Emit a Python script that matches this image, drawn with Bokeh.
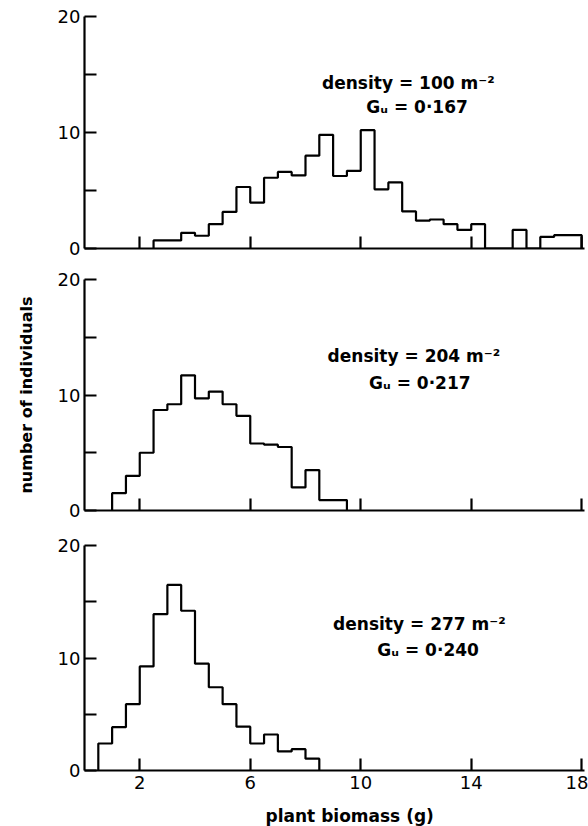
import numpy as np
from bokeh.plotting import figure
from bokeh.layouts import column
from bokeh.models import FixedTicker, Label
from bokeh.embed import file_html
from bokeh.resources import INLINE

# ---- data ----
BIN_WIDTH = 0.5
x_ticks = [2, 6, 10, 14, 18]
y_major = [0, 10, 20]
y_minor = [5, 15]

start_100 = 2.5
counts_100 = [0.7, 0.7, 1.35, 1.1, 2.1, 3.15, 5.3, 3.95, 6.1, 6.6, 6.3, 8.0, 9.8,
              6.25, 6.7, 10.2, 5.1, 5.7, 3.2, 2.4, 2.5, 2.1, 1.6, 2.1, 0, 0, 1.6,
              0, 1.0, 1.15, 1.15]
start_204 = 1.0
counts_204 = [1.5, 3.0, 5.0, 8.7, 9.2, 11.7, 9.7, 10.3, 9.2, 8.2, 5.8, 5.7, 5.5,
              2.0, 3.5, 0.9, 0.9]
start_277 = 0.5
counts_277 = [2.4, 3.85, 5.9, 9.25, 13.9, 16.5, 14.2, 9.5, 7.4, 5.9, 3.9, 2.4, 3.2,
              1.7, 1.9, 1.05]

densities = ["100", "204", "277"]
gu_values = ["0·167", "0·217", "0·240"]
x_title = "plant biomass (g)"
y_title = "number of individuals"

FONT = "DejaVu Sans"
LW = 2.2
X_RANGE = (0, 18.1)

panels = [
    dict(start=start_100, counts=counts_100, dens=densities[0], gu=gu_values[0],
         height=262, top=16, bottom=14, dpos=(8.6, 14.3), gpos=(10.2, 12.2)),
    dict(start=start_204, counts=counts_204, dens=densities[1], gu=gu_values[1],
         height=263, top=17, bottom=15, dpos=(8.8, 13.4), gpos=(10.3, 11.0)),
    dict(start=start_277, counts=counts_277, dens=densities[2], gu=gu_values[2],
         height=273, top=20, bottom=28, dpos=(9.0, 13.0), gpos=(10.6, 10.75)),
]

figs = []
for i, pn in enumerate(panels):
    p = figure(width=588, height=pn["height"], x_range=X_RANGE, y_range=(0, 20),
               output_backend="svg", toolbar_location=None,
               min_border_left=84, min_border_right=4,
               min_border_top=pn["top"], min_border_bottom=pn["bottom"])
    p.outline_line_color = None
    p.grid.visible = False
    p.background_fill_color = "white"
    p.border_fill_color = "white"

    counts = pn["counts"]
    edges = pn["start"] + BIN_WIDTH * np.arange(len(counts) + 1)
    xs = np.concatenate([[edges[0]], edges])
    ys = np.concatenate([[0.0], counts, [0.0]])
    p.step(xs, ys, mode="after", line_color="black", line_width=LW)

    # axes
    if i < 2:
        # unlabeled x axis: ticks drawn as minor ticks (no labels)
        p.xaxis.ticker = FixedTicker(ticks=[], minor_ticks=x_ticks)
        p.xaxis.minor_tick_line_width = LW
        p.xaxis.minor_tick_line_color = "black"
        p.xaxis.minor_tick_in = 12
        p.xaxis.minor_tick_out = 0
    else:
        p.xaxis.ticker = FixedTicker(ticks=x_ticks)
        p.xaxis.minor_tick_line_color = None
        p.xaxis.major_label_standoff = 5
    p.yaxis.ticker = FixedTicker(ticks=y_major, minor_ticks=y_minor)
    for ax in (p.xaxis, p.yaxis):
        ax.axis_line_width = LW
        ax.axis_line_color = "black"
        ax.major_tick_line_width = LW
        ax.major_tick_line_color = "black"
        ax.major_tick_in = 12
        ax.major_tick_out = 0
        ax.major_label_text_font = FONT
        ax.major_label_text_font_size = "18px"
        ax.major_label_text_color = "black"
    p.yaxis.minor_tick_line_width = LW
    p.yaxis.minor_tick_line_color = "black"
    p.yaxis.minor_tick_in = 12
    p.yaxis.minor_tick_out = 0
    p.yaxis.major_label_standoff = 4
    if i == 1:
        p.yaxis.axis_label = y_title
        p.yaxis.axis_label_text_font = FONT
        p.yaxis.axis_label_text_font_style = "bold"
        p.yaxis.axis_label_text_font_size = "16px"
        p.yaxis.axis_label_text_color = "black"
        p.yaxis.axis_label_standoff = 19

    p.add_layout(Label(x=pn["dpos"][0], y=pn["dpos"][1],
                       text="density = %s m\u207b\u00b2" % pn["dens"],
                       text_font=FONT, text_font_style="bold", text_font_size="17px",
                       text_color="black",
                       text_baseline="middle", text_align="left"))
    p.add_layout(Label(x=pn["gpos"][0], y=pn["gpos"][1],
                       text="G\u1d64 = %s" % pn["gu"],
                       text_font=FONT, text_font_style="bold", text_font_size="17px",
                       text_color="black",
                       text_baseline="middle", text_align="left"))
    figs.append(p)

# strip under the bottom panel holding the x-axis title, sharing the x scale
cap = figure(width=588, height=28, x_range=figs[-1].x_range, y_range=(0, 1),
             output_backend="svg", toolbar_location=None,
             min_border_left=84, min_border_right=4,
             min_border_top=0, min_border_bottom=0)
cap.axis.visible = False
cap.grid.visible = False
cap.outline_line_color = None
cap.border_fill_color = "white"
cap.add_layout(Label(x=9.6, y=0.36, text=x_title,
                     text_font=FONT, text_font_style="bold", text_font_size="17px",
                     text_color="black", text_baseline="middle", text_align="center"))
figs.append(cap)

layout = column(*figs, spacing=0)
open("out.html", "w").write(file_html(layout, INLINE))
